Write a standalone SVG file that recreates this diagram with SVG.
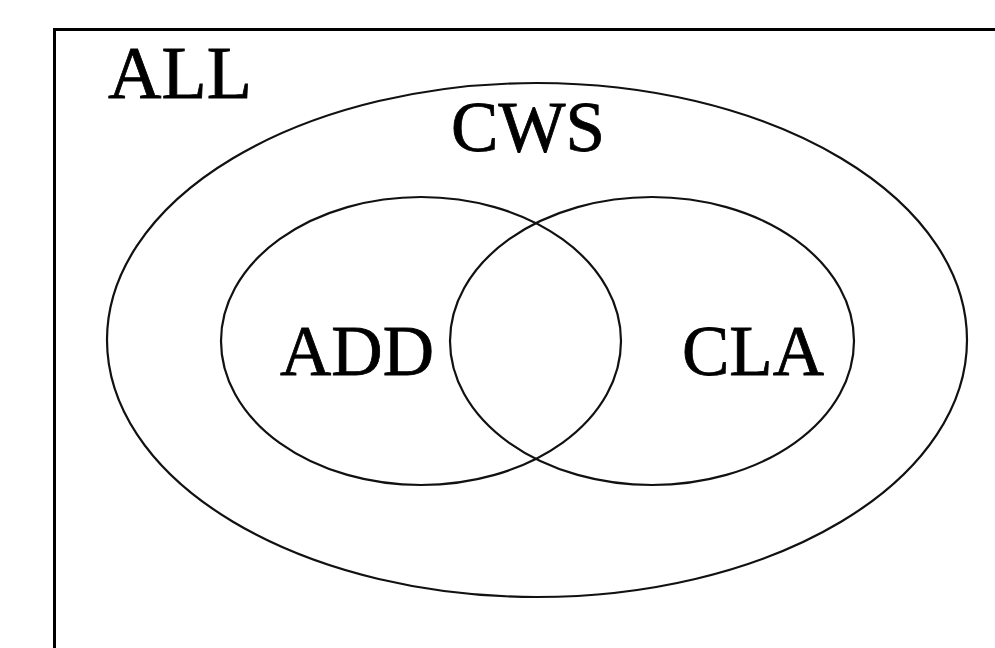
<svg xmlns="http://www.w3.org/2000/svg" width="995" height="648" viewBox="0 0 995 648">
<style>
.set{fill:none;stroke:#111;stroke-width:2.2}
.lbl{font-family:"Liberation Serif","Times New Roman",serif;font-size:71px;fill:#000;stroke:#000;stroke-width:0.8}
</style>
<rect width="995" height="648" fill="#fff"/>
<g id="ALL">
<rect x="54.5" y="29.5" width="960" height="640" fill="none" stroke="#000" stroke-width="3"/>
<text class="lbl" x="108" y="98" style="font-size:74px">ALL</text>
</g>
<g id="CWS">
<ellipse class="set" cx="537" cy="340" rx="430" ry="257"/>
<text class="lbl" x="528" y="151" text-anchor="middle">CWS</text>
</g>
<g id="ADD">
<ellipse class="set" cx="421" cy="341" rx="200" ry="144"/>
<text class="lbl" x="357" y="375" text-anchor="middle">ADD</text>
</g>
<g id="CLA">
<ellipse class="set" cx="652" cy="341" rx="202" ry="144"/>
<text class="lbl" x="753" y="375" text-anchor="middle">CLA</text>
</g>
<g id="connectors"/>
</svg>
